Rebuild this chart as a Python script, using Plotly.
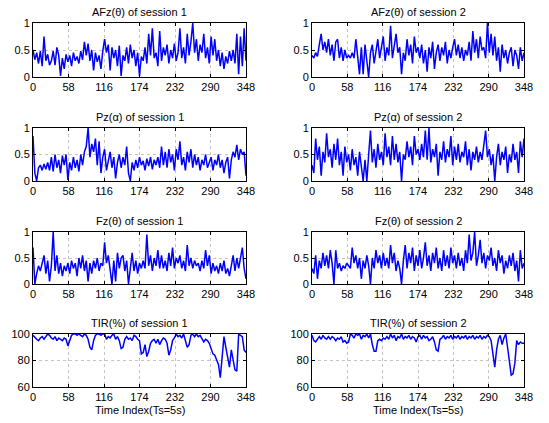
import plotly.graph_objects as go

# x positions (sample index, every 3rd sample)
time_index = list(range(0, 349, 3))
x_ticks = [0, 58, 116, 174, 232, 290, 348]

afz_s1 = [0.50,0.32,0.45,0.25,0.48,0.20,0.75,0.30,0.42,0.22,
          0.30,0.48,0.22,0.55,0.40,0.02,0.35,0.15,0.42,0.28,
          0.40,0.20,0.45,0.30,0.38,0.25,0.48,0.32,0.65,0.40,
          0.62,0.30,0.50,0.12,0.45,0.28,0.40,0.15,0.48,0.70,
          0.45,0.60,0.12,0.55,0.35,0.50,0.20,0.58,0.02,0.40,
          0.30,0.55,0.25,0.60,0.35,0.50,0.20,0.45,0.02,0.38,
          0.30,0.55,0.25,0.80,0.40,0.90,0.35,0.45,0.20,0.85,
          0.30,0.55,0.40,0.60,0.25,0.50,0.35,0.62,0.30,0.45,
          0.90,0.35,0.55,0.25,0.80,0.40,0.65,1.00,0.45,0.70,
          0.30,0.60,0.45,0.80,0.35,0.55,0.25,0.75,0.40,0.70,
          0.30,0.50,0.20,0.45,0.15,0.38,0.25,0.48,0.30,0.50,
          0.25,0.80,0.05,0.75,0.20,0.90,0.30]
afz_s2 = [0.40,0.35,0.45,0.38,0.60,0.80,0.50,0.65,0.45,0.70,
          0.40,0.60,0.30,0.65,0.70,0.35,0.55,0.30,0.50,0.35,
          0.40,0.35,0.45,0.35,0.70,0.40,0.05,0.55,0.05,0.60,
          0.30,0.00,0.45,0.60,0.25,0.50,0.70,0.35,0.55,0.75,
          0.30,0.55,0.40,0.95,0.35,0.60,0.80,0.45,0.55,0.05,
          0.45,0.30,0.70,0.40,0.60,0.25,0.75,0.45,0.55,0.35,
          0.60,0.25,0.50,0.10,0.55,0.35,0.65,0.15,0.45,0.60,
          0.30,0.55,0.40,0.65,0.25,0.50,0.35,0.55,0.70,0.40,
          0.60,0.35,0.55,0.30,0.50,0.40,0.65,0.30,0.85,0.45,
          0.70,0.35,0.75,0.50,0.55,0.35,1.00,0.45,0.80,0.40,
          0.75,0.30,0.55,0.10,0.60,0.35,0.50,0.25,0.45,0.55,
          0.20,0.50,0.40,0.15,0.55,0.30,0.45]
pz_s1 = [0.85,0.15,0.00,0.25,0.30,0.20,0.32,0.22,0.35,0.20,
         0.45,0.18,0.50,0.25,0.40,0.15,0.48,0.30,0.50,0.02,
         0.35,0.20,0.45,0.25,0.40,0.18,0.50,0.30,0.55,0.65,
         1.00,0.45,0.70,0.55,0.80,0.30,0.75,0.15,0.45,0.60,
         0.20,0.40,0.55,0.25,0.45,0.05,0.35,0.50,0.25,0.45,
         0.30,0.65,0.15,0.00,0.35,0.20,0.40,0.25,0.45,0.30,
         0.38,0.20,0.42,0.28,0.45,0.22,0.40,0.30,0.45,0.25,
         0.65,0.30,0.55,0.25,0.60,0.35,0.50,0.20,0.60,0.40,
         0.75,0.30,0.45,0.20,0.55,0.35,0.60,0.25,0.50,0.30,
         0.45,0.20,0.40,0.30,0.50,0.25,0.35,0.45,0.20,0.40,
         0.30,0.50,0.25,0.40,0.15,0.35,0.45,0.05,0.40,0.55,
         0.45,0.68,0.40,0.60,0.50,0.55,0.10]
pz_s2 = [0.30,0.15,0.80,0.40,0.65,0.10,0.55,0.35,0.90,0.45,
         0.60,0.25,0.70,0.40,0.80,0.30,0.55,0.10,0.65,0.35,
         0.50,0.20,0.60,0.30,0.45,0.10,0.55,0.25,0.00,0.40,
         0.00,0.50,0.95,0.35,0.60,0.25,0.70,0.40,0.55,0.30,
         0.90,0.45,0.65,0.30,0.85,0.40,0.70,0.35,0.55,0.00,
         0.50,0.40,0.75,0.45,0.65,0.30,0.85,0.50,0.60,0.40,
         0.70,0.45,0.95,0.40,1.00,0.35,0.60,0.45,0.70,0.10,
         0.55,0.40,0.75,0.35,0.60,0.45,0.85,0.30,0.65,0.40,
         0.70,0.35,0.55,0.45,0.75,0.30,0.60,0.20,0.55,0.40,
         0.65,0.35,0.55,0.40,0.70,0.95,0.45,0.60,0.30,0.50,
         0.00,0.45,0.70,0.30,0.55,0.40,0.65,0.15,0.50,0.35,
         0.70,0.40,0.55,0.15,0.75,0.45,0.80]
fz_s1 = [0.70,0.00,0.20,0.35,0.25,0.40,0.55,0.20,0.45,0.05,
         0.35,1.00,0.25,0.55,0.20,0.40,0.15,0.35,0.25,0.40,
         0.20,0.45,0.30,0.40,0.15,0.50,0.30,0.55,0.25,0.45,
         0.05,0.40,0.20,0.45,0.30,0.50,0.25,0.40,0.35,0.80,
         0.40,0.55,0.30,0.00,0.45,0.05,0.60,0.30,0.50,0.55,
         0.25,0.45,0.00,0.35,0.60,0.25,0.45,0.20,0.40,0.30,
         0.45,0.30,0.95,0.35,0.55,0.25,0.50,0.35,0.65,0.30,
         0.55,0.30,0.45,0.25,0.60,0.35,0.70,0.30,0.50,0.40,
         0.55,0.30,0.45,0.25,0.75,0.35,0.50,0.30,0.45,0.35,
         0.40,0.25,0.45,0.30,0.65,0.35,0.55,0.20,0.40,0.25,
         0.35,0.20,0.40,0.25,0.45,0.20,0.30,0.15,0.35,0.55,
         0.25,0.50,0.30,0.55,0.70,0.30,0.10]
fz_s2 = [0.30,0.20,0.55,0.10,0.45,0.30,0.60,0.35,0.55,0.30,
         0.65,0.40,0.00,0.65,0.30,0.40,0.25,0.35,0.30,0.40,
         0.35,0.30,0.70,0.40,0.55,0.30,0.50,0.10,0.45,0.30,
         0.55,0.35,0.00,0.50,0.30,0.65,0.40,0.55,0.30,0.60,
         0.35,0.50,0.30,0.75,0.40,0.60,0.25,0.45,0.30,0.00,
         0.45,0.75,0.30,0.60,0.40,0.70,0.25,0.55,0.35,0.65,
         0.30,0.50,0.80,0.35,0.55,0.25,0.60,0.40,0.70,0.30,
         0.50,0.25,0.65,0.35,0.55,0.30,0.70,0.40,0.55,0.30,
         0.60,0.35,0.50,0.25,0.65,0.40,0.95,0.45,0.60,1.00,
         0.35,0.55,0.85,0.40,0.60,0.30,0.55,0.45,0.70,0.35,
         0.50,0.25,0.65,0.40,0.55,0.20,0.45,0.30,0.55,0.35,
         0.60,0.25,0.45,0.05,0.65,0.30,0.40]
tir_s1 = [99,97,96,95,97,98,96,98,100,99,
          97,96,98,95,97,96,95,97,96,91,
          95,99,100,100,99,100,99,98,100,99,
          96,90,88,95,99,100,100,99,100,100,
          96,98,97,99,100,96,98,95,89,90,
          96,98,96,97,95,99,98,96,95,85,
          86,92,83,87,93,95,96,93,96,92,
          95,97,96,93,84,88,95,97,100,98,
          99,97,100,95,90,92,99,100,98,100,
          98,99,96,94,96,95,93,88,85,84,
          80,77,67,80,98,90,82,75,88,80,
          73,72,100,99,98,88,86]
tir_s2 = [99,95,94,96,98,96,99,97,96,98,
          96,98,97,95,97,96,98,94,95,93,
          94,100,99,97,100,99,100,96,99,98,
          100,97,100,92,87,87,95,96,95,97,
          96,98,96,100,97,99,95,98,97,100,
          96,98,97,99,96,98,97,94,98,99,
          96,99,97,98,95,96,98,94,88,87,
          96,97,99,96,98,97,99,96,98,97,
          99,96,98,97,99,96,98,97,99,96,
          98,97,99,96,98,97,99,98,95,85,
          75,88,96,99,92,97,100,90,78,69,
          70,78,95,92,94,93,93]

titles = [["AFz(θ) of session 1", "AFz(θ) of session 2"],
          ["Pz(α) of session 1", "Pz(α) of session 2"],
          ["Fz(θ) of session 1", "Fz(θ) of session 2"],
          ["TIR(%) of session 1", "TIR(%) of session 2"]]
series = [[afz_s1, afz_s2], [pz_s1, pz_s2], [fz_s1, fz_s2], [tir_s1, tir_s2]]

W, H = 549, 423
col_px = [(33, 246), (312, 524)]
row_px = [(23, 77), (128, 181), (232, 284), (334, 387)]

fig = go.Figure()
FONT = "Liberation Sans, Arial, Helvetica, sans-serif"
annotations = []
n = 0
for r in range(4):
    for c in range(2):
        n += 1
        xa = "x" if n == 1 else f"x{n}"
        ya = "y" if n == 1 else f"y{n}"
        fig.add_trace(go.Scatter(x=time_index, y=series[r][c], mode="lines",
                                 line=dict(color="#0000FF", width=1.5),
                                 xaxis=xa, yaxis=ya, showlegend=False,
                                 hoverinfo="skip"))
        x0, x1 = col_px[c]
        y0, y1 = row_px[r]
        xdom = [x0 / W, x1 / W]
        ydom = [1 - y1 / H, 1 - y0 / H]
        common = dict(showline=True, linecolor="black", linewidth=1, mirror="ticks",
                      ticks="inside", ticklen=3, tickcolor="black", automargin=False,
                      showgrid=True, gridcolor="#c4c4c4", griddash="dot", gridwidth=1,
                      zeroline=False, tickfont=dict(size=11, color="black", family=FONT))
        fig.layout[("xaxis" if n == 1 else f"xaxis{n}")] = dict(
            domain=xdom, anchor=ya, range=[0, 348], tickvals=x_ticks,
            ticktext=[str(v) for v in x_ticks], **common)
        if r < 3:
            yk = dict(range=[0, 1], tickvals=[0, 0.5, 1], ticktext=["0", "0.5", "1"])
        else:
            yk = dict(range=[60, 100], tickvals=[60, 80, 100], ticktext=["60", "80", "100"])
        fig.layout[("yaxis" if n == 1 else f"yaxis{n}")] = dict(
            domain=ydom, anchor=xa, **yk, **common)
        annotations.append(dict(text=titles[r][c], x=(xdom[0] + xdom[1]) / 2,
                                y=ydom[1], xref="paper", yref="paper",
                                xanchor="center", yanchor="bottom", yshift=3,
                                showarrow=False,
                                font=dict(size=11, color="black", family=FONT)))
        if r == 3:
            annotations.append(dict(text="Time Index(Ts=5s)", x=(xdom[0] + xdom[1]) / 2,
                                    y=ydom[0], xref="paper", yref="paper",
                                    xanchor="center", yanchor="top", yshift=-15,
                                    showarrow=False,
                                    font=dict(size=11, color="black", family=FONT)))

fig.update_layout(width=W, height=H,
                  margin=dict(l=0, r=0, t=0, b=0, pad=0, autoexpand=False),
                  paper_bgcolor="white", plot_bgcolor="white",
                  annotations=annotations)
fig.write_html("out.html", config={"displayModeBar": False},
               post_script="document.body.style.margin='0';document.body.style.padding='0';")
